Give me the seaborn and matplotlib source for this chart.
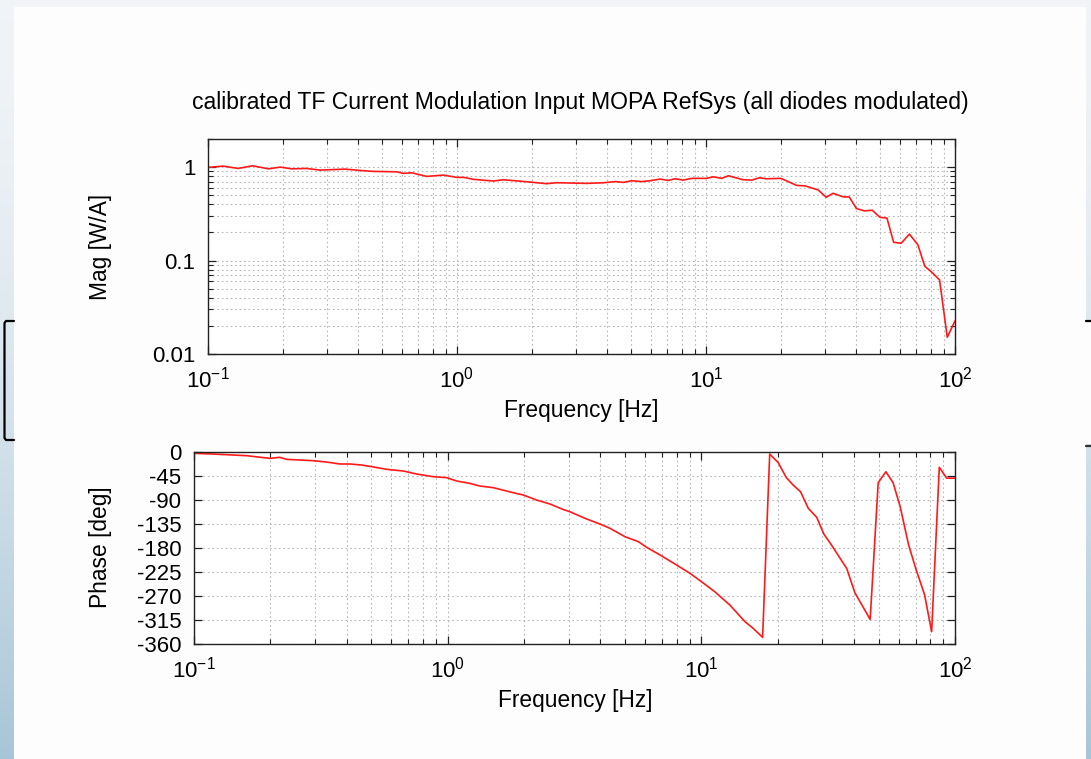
import numpy as np
import matplotlib
matplotlib.use("Agg")
import matplotlib.pyplot as plt
import matplotlib.ticker as mticker
from matplotlib.patches import Rectangle
from matplotlib.lines import Line2D
import seaborn as sns

# ---- measured transfer function -------------------------------------------
mag_freq = [0.100, 0.115, 0.132, 0.151, 0.175, 0.195, 0.217, 0.249, 0.282, 0.329,
            0.355, 0.408, 0.461, 0.572, 0.609, 0.658, 0.755, 0.882, 0.997, 1.066,
            1.163, 1.40, 1.535, 1.965, 2.29, 2.51, 3.32, 3.87, 4.31, 4.66,
            5.03, 5.52, 5.96, 6.54, 7.06, 7.51, 8.11, 8.76, 10.06, 10.7,
            11.56, 12.3, 14.1, 15.3, 16.4, 17.5, 20.0, 21.4, 23.1, 25.0,
            28.2, 30.4, 32.4, 35.6, 37.6, 40.2, 43.3, 46.5, 50.0, 53.3,
            56.7, 60.8, 65.6, 70.9, 75.6, 80.7, 86.7, 93.1, 100.0]
mag_val = [0.993, 1.025, 0.968, 1.033, 0.959, 1.000, 0.959, 0.968, 0.929, 0.945,
           0.952, 0.922, 0.900, 0.891, 0.857, 0.870, 0.796, 0.822, 0.777, 0.777,
           0.740, 0.710, 0.733, 0.692, 0.665, 0.681, 0.670, 0.680, 0.700, 0.687,
           0.715, 0.700, 0.715, 0.745, 0.720, 0.751, 0.727, 0.758, 0.758, 0.788,
           0.758, 0.808, 0.733, 0.727, 0.770, 0.750, 0.758, 0.700, 0.638, 0.630,
           0.570, 0.476, 0.525, 0.480, 0.480, 0.360, 0.340, 0.346, 0.290, 0.285,
           0.157, 0.153, 0.192, 0.148, 0.087, 0.075, 0.062, 0.0151, 0.0226]

phase_freq = [0.100, 0.119, 0.161, 0.199, 0.218, 0.232, 0.295, 0.333, 0.376, 0.412,
              0.458, 0.502, 0.575, 0.668, 0.755, 0.878, 0.991, 1.085, 1.224, 1.34,
              1.514, 1.814, 1.986, 2.24, 2.53, 2.86, 3.03, 3.48, 3.98, 4.36,
              5.00, 5.64, 6.09, 6.87, 7.87, 9.02, 10.0, 11.3, 12.96, 14.85,
              16.0, 17.44, 18.6, 20.1, 21.6, 23.0, 24.6, 26.4, 28.5, 30.4,
              32.6, 35.2, 37.4, 40.3, 46.3, 49.8, 53.4, 57.0, 60.8, 65.6,
              70.3, 75.9, 80.9, 86.7, 92.7, 100.0]
phase_val = [-2.5, -3.8, -6.9, -11.9, -10.0, -13.8, -16.3, -18.8, -22.5, -22.5,
             -24.4, -27.5, -32.5, -35.6, -41.3, -46.3, -48.1, -54.4, -58.8, -63.8,
             -66.9, -76.3, -80.6, -90.0, -97.5, -108.0, -111.9, -124.4, -135.0, -143.0,
             -158.8, -168.0, -178.8, -193.0, -210.0, -227.5, -243.0, -262.0, -287.0, -318.0,
             -330.6, -347.5, -3.8, -20.0, -47.5, -61.9, -74.4, -105.6, -122.5, -153.8,
             -174.4, -199.0, -218.0, -263.8, -314.0, -57.5, -37.0, -57.5, -102.5, -174.0,
             -221.0, -268.0, -337.0, -28.7, -49.0, -49.0]

mag_ticks = [0.01, 0.1, 1]
mag_tick_labels = ["0.01", "0.1", "1"]
phase_ticks = [0, -45, -90, -135, -180, -225, -270, -315, -360]

title = "calibrated TF Current Modulation Input MOPA RefSys (all diodes modulated)"
xlabel = "Frequency [Hz]"

# ---- style ------------------------------------------------------------------
sns.set_theme(style="ticks")
plt.rcParams["font.family"] = ["Liberation Sans", "DejaVu Sans"]
plt.rcParams["mathtext.fontset"] = "custom"
plt.rcParams["mathtext.rm"] = "Liberation Sans"
plt.rcParams["mathtext.it"] = "Liberation Sans:italic"
plt.rcParams["axes.unicode_minus"] = False
plt.rcParams["text.color"] = "black"

W, H = 1091, 759
fig = plt.figure(figsize=(W / 100, H / 100), dpi=100)
fig.patch.set_facecolor("#fdfdfd")


def px_rect(x0, y0, x1, y1):
    return [x0 / W, 1 - y1 / H, (x1 - x0) / W, (y1 - y0) / H]


# window frame around the page
bg = fig.add_axes([0, 0, 1, 1], zorder=-10)
bg.set_xlim(0, W)
bg.set_ylim(H, 0)
bg.axis("off")
bg.add_patch(Rectangle((0, 0), W, 7, color="#f2f4f7", lw=0))
grad = np.linspace(0, 1, 256) ** 1.6
top_c = np.array([0.945, 0.957, 0.969])
bot_c = np.array([0.655, 0.776, 0.843])
strip = (top_c[None, :] * (1 - grad[:, None]) + bot_c[None, :] * grad[:, None])[:, None, :]
bg.imshow(strip, extent=(0, 14, H, 0), aspect="auto", zorder=1)
bg.imshow(strip, extent=(1086, W, H, 0), aspect="auto", zorder=1)
bg.add_patch(Rectangle((1086, 322), 5, 122, color="#fdfdfd", lw=0, zorder=2))
bg.add_line(Line2D([14, 6, 4.5, 4.5, 6, 14], [321, 321, 323, 438, 440, 440],
                   color="black", lw=1.6, zorder=3))
bg.add_line(Line2D([1086, W], [321, 321], color="black", lw=1.6, zorder=3))
bg.add_line(Line2D([1086, W], [446, 446], color="#333333", lw=1.6, zorder=3))

red = "#ff1a1a"
grid_kw = dict(color="#b8b8b8", linestyle=(0, (1.5, 2.5)), linewidth=0.8)
tick_fs = 16
label_fs = 16.4


def style_axes(ax):
    ax.set_facecolor("white")
    for s in ax.spines.values():
        s.set_color("#222222")
        s.set_linewidth(1.0)
    ax.tick_params(which="both", direction="in", top=True, right=True,
                   colors="#222222", labelcolor="black", labelsize=tick_fs)
    ax.tick_params(which="major", length=6, width=0.9, pad=9)
    ax.tick_params(which="minor", length=3.5, width=0.8)
    ax.set_xscale("log")
    ax.set_xlim(0.1, 100)
    ax.xaxis.set_major_locator(mticker.LogLocator(base=10))
    ax.xaxis.set_minor_locator(mticker.LogLocator(base=10, subs=np.arange(2, 10)))
    ax.xaxis.set_major_formatter(mticker.LogFormatterSciNotation())
    ax.xaxis.set_minor_formatter(mticker.NullFormatter())
    ax.grid(which="both", axis="x", **grid_kw)
    ax.set_axisbelow(True)


# ---- magnitude --------------------------------------------------------------
ax1 = fig.add_axes(px_rect(208, 139, 955, 354))
style_axes(ax1)
sns.lineplot(x=mag_freq, y=mag_val, ax=ax1, color=red, lw=1.2,
             estimator=None, sort=False)
ax1.set_yscale("log")
ax1.set_ylim(0.01, 2)
ax1.yaxis.set_major_locator(mticker.FixedLocator(mag_ticks))
ax1.yaxis.set_major_formatter(mticker.FixedFormatter(mag_tick_labels))
ax1.yaxis.set_minor_locator(mticker.LogLocator(base=10, subs=np.arange(2, 10)))
ax1.yaxis.set_minor_formatter(mticker.NullFormatter())
ax1.grid(which="both", axis="y", **grid_kw)
ax1.set_xlabel("")
ax1.set_ylabel("")

# ---- phase ------------------------------------------------------------------
ax2 = fig.add_axes(px_rect(194, 452, 955, 644))
style_axes(ax2)
sns.lineplot(x=phase_freq, y=phase_val, ax=ax2, color=red, lw=1.2,
             estimator=None, sort=False)
ax2.set_ylim(-360, 0)
ax2.yaxis.set_major_locator(mticker.FixedLocator(phase_ticks))
ax2.yaxis.set_major_formatter(mticker.FormatStrFormatter("%d"))
ax2.grid(which="major", axis="y", **grid_kw)
ax2.set_xlabel("")
ax2.set_ylabel("")

# ---- text -------------------------------------------------------------------
fig.text(580.5 / W, 1 - 103 / H, title, ha="center", va="center", fontsize=16.6)
fig.text(581 / W, 1 - 411 / H, xlabel, ha="center", va="center", fontsize=label_fs)
fig.text(575 / W, 1 - 700 / H, xlabel, ha="center", va="center", fontsize=label_fs)
fig.text(100 / W, 1 - 247 / H, "Mag [W/A]", ha="center", va="center",
         rotation=90, fontsize=label_fs)
fig.text(100 / W, 1 - 547 / H, "Phase [deg]", ha="center", va="center",
         rotation=90, fontsize=label_fs)

fig.savefig("out.png", dpi=100)
